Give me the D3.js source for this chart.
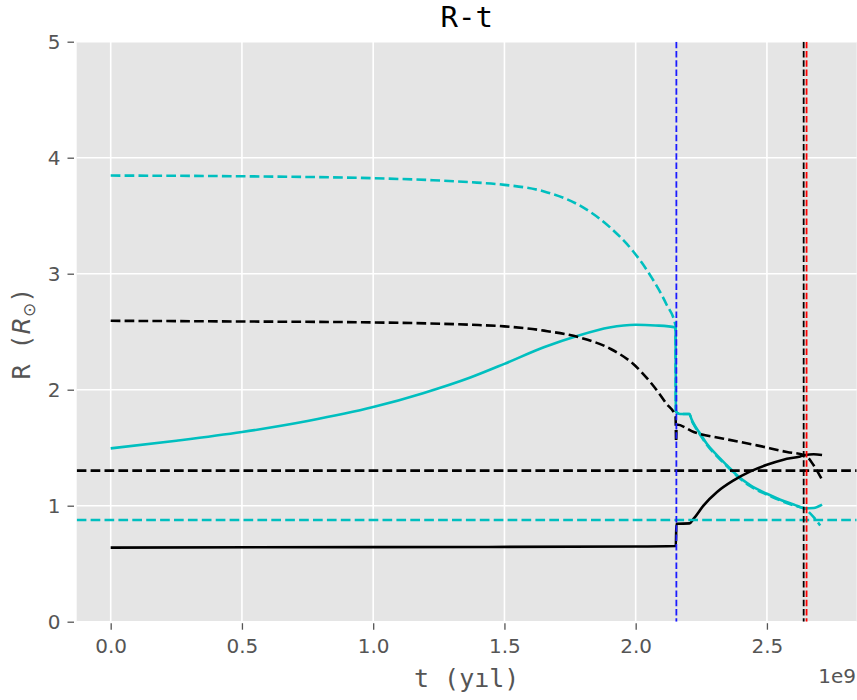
<!DOCTYPE html>
<html>
<head>
<meta charset="utf-8">
<script src="https://cdn.jsdelivr.net/npm/d3@7"></script>
<style>
  html, body { margin: 0; padding: 0; background: #fff; }
  svg { display: block; }
</style>
</head>
<body>
<svg id="chart" width="857" height="700"></svg>
<script>
// ---------- data (t in years, R in solar radii) ----------
const xTicks = [0, 0.5e9, 1.0e9, 1.5e9, 2.0e9, 2.5e9];
const yTicks = [0, 1, 2, 3, 4, 5];

// cyan solid
const tCyanSolid = [0, 0.25e9, 0.5e9, 0.75e9, 1.0e9, 1.19e9, 1.37e9, 1.5e9, 1.65e9, 1.78e9, 1.9e9, 2.0e9, 2.075e9, 2.152e9, 2.153e9, 2.158e9, 2.17e9, 2.19e9, 2.205e9, 2.212e9, 2.221e9, 2.246e9, 2.271e9, 2.31e9, 2.348e9, 2.386e9, 2.437e9, 2.5e9, 2.551e9, 2.602e9, 2.646e9, 2.678e9, 2.71e9];
const rCyanSolid = [1.494, 1.56, 1.635, 1.73, 1.85, 1.97, 2.105, 2.223, 2.366, 2.466, 2.537, 2.56, 2.554, 2.537, 1.82, 1.80, 1.79, 1.79, 1.79, 1.75, 1.707, 1.62, 1.534, 1.434, 1.348, 1.262, 1.175, 1.103, 1.052, 1.011, 0.977, 0.98, 1.009];

// cyan dashed
const tCyanDash = [0, 0.494e9, 1.0e9, 1.228e9, 1.369e9, 1.5e9, 1.651e9, 1.793e9, 1.905e9, 1.99e9, 2.061e9, 2.117e9, 2.152e9, 2.153e9, 2.158e9, 2.19e9, 2.205e9, 2.212e9, 2.221e9, 2.246e9, 2.271e9, 2.31e9, 2.348e9, 2.386e9, 2.437e9, 2.5e9, 2.551e9, 2.602e9, 2.646e9, 2.678e9, 2.703e9];
const rCyanDash = [3.846, 3.84, 3.823, 3.806, 3.789, 3.766, 3.709, 3.58, 3.394, 3.194, 2.966, 2.737, 2.551, 1.82, 1.80, 1.79, 1.79, 1.74, 1.70, 1.61, 1.525, 1.425, 1.34, 1.255, 1.168, 1.095, 1.045, 1.003, 0.97, 0.902, 0.83];

// black dashed
const tBlackDash = [0, 0.5e9, 1.0e9, 1.369e9, 1.5e9, 1.651e9, 1.793e9, 1.905e9, 1.99e9, 2.061e9, 2.117e9, 2.152e9, 2.154e9, 2.156e9, 2.221e9, 2.335e9, 2.462e9, 2.576e9, 2.646e9, 2.678e9, 2.71e9];
const rBlackDash = [2.594, 2.588, 2.58, 2.56, 2.546, 2.509, 2.446, 2.351, 2.223, 2.051, 1.88, 1.77, 1.55, 1.70, 1.635, 1.578, 1.52, 1.463, 1.434, 1.348, 1.224];

// black solid
const tBlackSolid = [0, 1.0e9, 2.0e9, 2.153e9, 2.155e9, 2.158e9, 2.205e9, 2.221e9, 2.259e9, 2.31e9, 2.373e9, 2.437e9, 2.5e9, 2.563e9, 2.627e9, 2.646e9, 2.678e9, 2.71e9];
const rBlackSolid = [0.639, 0.643, 0.648, 0.652, 0.845, 0.845, 0.848, 0.888, 1.003, 1.118, 1.218, 1.296, 1.353, 1.397, 1.425, 1.437, 1.443, 1.437];

// reference lines
const hLineValues = [1.302, 0.877];
const hLineColors = ["#000000", "#00bfbf"];
const vLineValues = [2.155e9, 2.640e9, 2.651e9];
const vLineColors = ["#1a1aff", "#000000", "#ff0000"];

// ---------- layout ----------
const svg = d3.select("#chart");
const L = 76.7, R = 856.7, T = 41.7, B = 621.7;

const x = d3.scaleLinear().domain([-0.1295e9, 2.842e9]).range([L, R]);
const y = d3.scaleLinear().domain([0, 5]).range([B, T]);

svg.append("rect").attr("x", L).attr("y", T).attr("width", R - L).attr("height", B - T).attr("fill", "#e5e5e5");

// grid
const g = svg.append("g");
g.selectAll(".vg").data(xTicks).enter().append("line")
  .attr("x1", d => x(d)).attr("x2", d => x(d)).attr("y1", T).attr("y2", B)
  .attr("stroke", "#fff").attr("stroke-width", 1.6);
g.selectAll(".hg").data(yTicks).enter().append("line")
  .attr("y1", d => y(d)).attr("y2", d => y(d)).attr("x1", L).attr("x2", R)
  .attr("stroke", "#fff").attr("stroke-width", 1.6);

// axes via d3
const xAxis = d3.axisBottom(x).tickValues(xTicks).tickFormat(d => (d / 1e9).toFixed(1)).tickSize(6.5).tickPadding(8);
const yAxis = d3.axisLeft(y).tickValues(yTicks).tickFormat(d3.format("d")).tickSize(6.5).tickPadding(7);

const gx = svg.append("g").attr("transform", `translate(0,${B + 1.5})`).call(xAxis);
const gy = svg.append("g").attr("transform", `translate(${L - 2.7},0)`).call(yAxis);
[gx, gy].forEach(ax => {
  ax.select(".domain").remove();
  ax.selectAll(".tick line").attr("stroke", "#555").attr("stroke-width", 1.3);
  ax.selectAll(".tick text").attr("fill", "#555").style("font-family", "DejaVu Sans").style("font-size", "20px");
});
gy.selectAll(".tick text").attr("dy", "0.36em");
gx.selectAll(".tick text").attr("dy", "0.75em");

// clip
svg.append("clipPath").attr("id", "clip").append("rect")
  .attr("x", L).attr("y", T).attr("width", R - L).attr("height", B - T);
const plot = svg.append("g").attr("clip-path", "url(#clip)");

const line = d3.line().x(d => x(d[0])).y(d => y(d[1])).curve(d3.curveMonotoneX);
const zip = (a, b) => a.map((v, i) => [v, b[i]]);

const series = [
  { t: tCyanSolid, r: rCyanSolid, color: "#00bfbf", dash: null },
  { t: tCyanDash, r: rCyanDash, color: "#00bfbf", dash: "9.7,4.2" },
  { t: tBlackSolid, r: rBlackSolid, color: "#000000", dash: null },
  { t: tBlackDash, r: rBlackDash, color: "#000000", dash: "9.7,4.2" }
];
series.forEach(s => {
  plot.append("path").datum(zip(s.t, s.r))
    .attr("d", line).attr("fill", "none")
    .attr("stroke", s.color).attr("stroke-width", 2.6)
    .attr("stroke-dasharray", s.dash);
});

// horizontal reference lines
plot.selectAll(".hl").data(hLineValues).enter().append("line")
  .attr("x1", L).attr("x2", R).attr("y1", d => y(d)).attr("y2", d => y(d))
  .attr("stroke", (d, i) => hLineColors[i]).attr("stroke-width", 2.6)
  .attr("stroke-dasharray", "9.7,4.2");

// vertical reference lines
plot.selectAll(".vl").data(vLineValues).enter().append("line")
  .attr("x1", d => x(d)).attr("x2", d => x(d)).attr("y1", T).attr("y2", B)
  .attr("stroke", (d, i) => vLineColors[i]).attr("stroke-width", 1.8)
  .attr("stroke-dasharray", "6.5,2.8");

// title
svg.append("text").attr("x", (L + R) / 2).attr("y", 27)
  .attr("text-anchor", "middle").style("font-family", "DejaVu Sans Mono")
  .style("font-size", "29px").attr("fill", "#000").text("R-t");

// x label
svg.append("text").attr("x", (L + R) / 2).attr("y", 687)
  .attr("text-anchor", "middle").style("font-family", "DejaVu Sans Mono")
  .style("font-size", "25px").attr("fill", "#555").text("t (yıl)");

// offset text
svg.append("text").attr("x", 856).attr("y", 683)
  .attr("text-anchor", "end").style("font-family", "DejaVu Sans")
  .style("font-size", "20px").attr("fill", "#555").text("1e9");

// y label
const yl = svg.append("text")
  .attr("transform", `translate(30,${(T + B) / 2 + 2}) rotate(-90)`)
  .attr("text-anchor", "middle").attr("fill", "#555")
  .style("font-family", "DejaVu Sans Mono").style("font-size", "25px");
yl.append("tspan").text("R (");
yl.append("tspan").style("font-family", "DejaVu Sans").style("font-style", "italic").text("R");
yl.append("tspan").style("font-family", "DejaVu Sans").style("font-size", "17px").attr("dy", 5).text("⊙");
yl.append("tspan").attr("dy", -5).text(")");
</script>
</body>
</html>
